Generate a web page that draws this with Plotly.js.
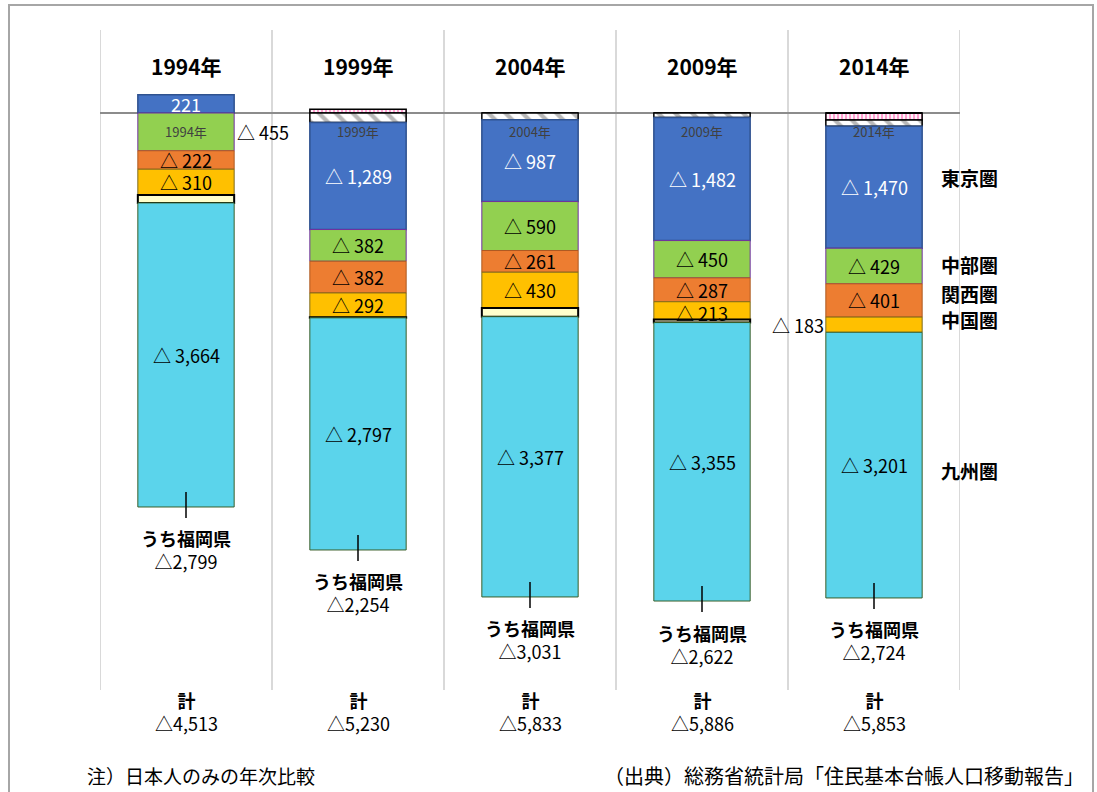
<!DOCTYPE html>
<html>
<head>
<meta charset="utf-8">
<script src="https://cdn.plot.ly/plotly-3.0.1.min.js"></script>
<style>
  html, body { margin: 0; padding: 0; background: #fff; }
  #wrap { position: relative; width: 1097px; height: 792px; }
  #chart { width: 1097px; height: 792px; }
  #frame { position: absolute; left: 8px; top: 4px; width: 1086px; height: 800px;
           border: 2px solid #a6a6a6; pointer-events: none; box-sizing: border-box; }
</style>
</head>
<body>
<div id="wrap"><div id="chart"></div><div id="frame"></div></div>
<script>
// ---- data (人, 転入超過数; negative = 転出超過 "△") ----
const years    = ['1994年', '1999年', '2004年', '2009年', '2014年'];
const otherA   = [0, 45, 0, 0, -85];                     // pink striped segment
const otherB   = [0, -115, -80, -55, -74];               // grey hatched segment
const tokyo    = [221, -1289, -987, -1482, -1470];       // 東京圏
const chubu    = [-455, -382, -590, -450, -429];         // 中部圏
const kansai   = [-222, -382, -261, -287, -401];         // 関西圏
const chugoku  = [-310, -292, -430, -213, -183];         // 中国圏
const shikoku  = [-96, -8, -106, -38, 0];                // 四国圏
const kyushu   = [-3664, -2797, -3377, -3355, -3201];    // 九州圏
const fukuoka  = [-2799, -2254, -3031, -2622, -2724];    // うち福岡県
const totals   = [-4513, -5230, -5833, -5886, -5853];    // 計
const regionNames = ['東京圏', '中部圏', '関西圏', '中国圏', '九州圏'];

const FONT = '"Noto Sans CJK JP", "Noto Sans", sans-serif';
const Y_MIN = -6952, Y_MAX = 1000;
const PLOT_H = 660;
const upp = (Y_MAX - Y_MIN) / PLOT_H;   // data units per pixel

const x = years.map((_, i) => i);

const series = [
  { name: 'その他A', y: otherA, color: '#ffffff', line: '#000000', lw: 1.5,
    pattern: { shape: '|', fgcolor: '#ff9fd0', bgcolor: '#ffffff', size: 4, solidity: 0.55 } },
  { name: 'その他B', y: otherB, color: '#ffffff', line: '#000000', lw: 1.5,
    pattern: { shape: '\\', fgcolor: '#b8b8b8', bgcolor: '#ffffff', size: 12, solidity: 0.35 } },
  { name: '東京圏', y: tokyo,   color: '#4472c4', line: '#2f528f', lw: 1.5, label: true, txt: '#ffffff' },
  { name: '中部圏', y: chubu,   color: '#92d050', line: '#7030a0', lw: 1,   label: true, txt: '#000000' },
  { name: '関西圏', y: kansai,  color: '#ed7d31', line: '#ae5a21', lw: 1,   label: true, txt: '#000000' },
  { name: '中国圏', y: chugoku, color: '#ffc000', line: '#7f6a1a', lw: 1,   label: true, txt: '#000000' },
  { name: '四国圏', y: shikoku, color: '#ffffcc', line: '#000000', lw: 2 },
  { name: '九州圏', y: kyushu,  color: '#5bd4eb', line: '#3a5f2a', lw: 1,   label: true, txt: '#000000' }
];

const traces = series.map(s => {
  const m = { color: s.color, line: { color: s.line, width: s.lw } };
  if (s.pattern) m.pattern = s.pattern;
  return { type: 'bar', name: s.name, x: x, y: s.y, width: 0.56, marker: m,
           hoverinfo: 'name+y', textposition: 'none' };
});

function fmt(v) {
  const a = Math.abs(v).toLocaleString('en-US');
  return v < 0 ? '△ ' + a : a;
}
function fmtTight(v) {
  const a = Math.abs(v).toLocaleString('en-US');
  return v < 0 ? '△' + a : a;
}

const annotations = [];
const shapes = [];
const bottoms = [];
x.forEach(i => {
  let pos = 0, neg = 0;
  series.forEach(s => {
    const v = s.y[i];
    let base;
    if (v >= 0) { base = pos; pos += v; } else { base = neg; neg += v; }
    const mid = base + v / 2;
    if (s.label && v !== 0) {
      let ax = i, color = s.txt, yy = mid;
      if (i === 0 && s.name === '中部圏') { ax = i + 0.45; color = '#000000'; }
      if (i === 4 && s.name === '中国圏') { ax = i - 0.44; color = '#000000'; }
      if (i === 3 && s.name === '中国圏') { yy = mid - 2 * upp; }
      annotations.push({ x: ax, y: yy, xref: 'x', yref: 'y', text: fmt(v), showarrow: false,
        xanchor: 'center', yanchor: 'middle',
        font: { family: FONT, size: 18, color: color } });
    }
  });
  bottoms[i] = neg;
});

// small year tag at the top of the first segment below zero
x.forEach(i => {
  annotations.push({ x: i, y: -18 * upp, xref: 'x', yref: 'y', text: years[i], showarrow: false,
    yanchor: 'middle', font: { family: FONT, size: 13, color: '#404040' } });
});

// year headers
x.forEach(i => {
  annotations.push({ x: i, y: 0.945, xref: 'x', yref: 'paper', text: '<b>' + years[i] + '</b>',
    showarrow: false, yanchor: 'middle', font: { family: FONT, size: 21, color: '#000000' } });
});

// うち福岡県 labels with leader tick
x.forEach(i => {
  const b = bottoms[i];
  shapes.push({ type: 'line', xref: 'x', yref: 'y', x0: i, x1: i,
    y0: b + 15 * upp, y1: b - 11 * upp, line: { color: '#000000', width: 1.5 } });
  annotations.push({ x: i, y: b - 43 * upp, xref: 'x', yref: 'y',
    text: '<b>うち福岡県</b><br>' + fmtTight(fukuoka[i]), showarrow: false, yanchor: 'middle',
    align: 'center', font: { family: FONT, size: 18, color: '#000000' } });
});

// 計 totals
x.forEach(i => {
  annotations.push({ x: i, y: -21 / PLOT_H, xref: 'x', yref: 'paper',
    text: '<b>計</b><br>' + fmtTight(totals[i]), showarrow: false, yanchor: 'middle',
    align: 'center', font: { family: FONT, size: 18, color: '#000000' } });
});

// region names on the right
const regionY = [0.777, 0.644, 0.601, 0.561, 0.333];
regionNames.forEach((r, k) => {
  annotations.push({ x: 1.0116, y: regionY[k], xref: 'paper', yref: 'paper', text: '<b>' + r + '</b>',
    showarrow: false, xanchor: 'center', yanchor: 'middle',
    font: { family: FONT, size: 19, color: '#000000' } });
});

// footnotes
annotations.push({ x: -0.0174, y: -0.130, xref: 'paper', yref: 'paper', text: '注）日本人のみの年次比較',
  showarrow: false, xanchor: 'left', yanchor: 'middle', font: { family: FONT, size: 19, color: '#000000' } });
annotations.push({ x: 1.147, y: -0.130, xref: 'paper', yref: 'paper',
  text: '（出典）総務省統計局「住民基本台帳人口移動報告」',
  showarrow: false, xanchor: 'right', yanchor: 'middle', font: { family: FONT, size: 20, color: '#000000' } });

// column separators
for (let k = 0; k <= years.length; k++) {
  shapes.push({ type: 'line', xref: 'x', yref: 'paper', x0: k - 0.5, x1: k - 0.5, y0: 0, y1: 1,
    layer: 'below', line: { color: '#d9d9d9', width: 2 } });
}

const layout = {
  width: 1097, height: 792,
  margin: { l: 100, r: 137, t: 30, b: 102, pad: 0 },
  paper_bgcolor: '#ffffff', plot_bgcolor: '#ffffff',
  barmode: 'relative',
  showlegend: false,
  xaxis: { range: [-0.5, 4.5], showticklabels: false, showgrid: false, zeroline: false,
           ticks: '', showline: false, fixedrange: true },
  yaxis: { range: [Y_MIN, Y_MAX], showticklabels: false, showgrid: false, zeroline: true,
           zerolinecolor: '#8c8c8c', zerolinewidth: 2, ticks: '', showline: false, fixedrange: true },
  annotations: annotations,
  shapes: shapes,
  font: { family: FONT }
};

Plotly.newPlot('chart', traces, layout, { displayModeBar: false, staticPlot: true });
</script>
</body>
</html>
